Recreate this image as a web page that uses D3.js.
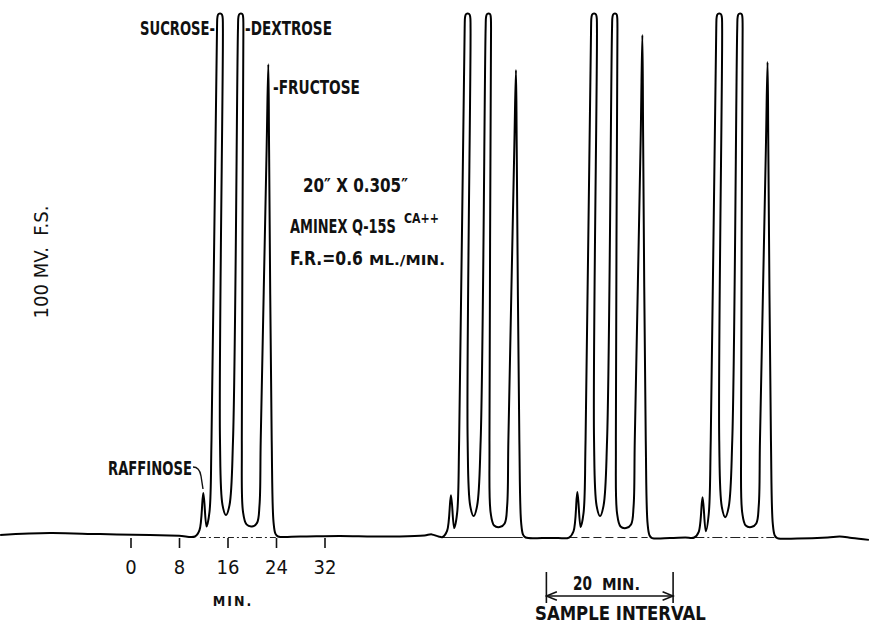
<!DOCTYPE html>
<html>
<head>
<meta charset="utf-8">
<script src="https://d3js.org/d3.v7.min.js"></script>
<style>
  body { margin: 0; background: #fff; }
  text { font-family: "DejaVu Sans Condensed", "DejaVu Sans", sans-serif; fill: #111; font-weight: bold; }
</style>
</head>
<body>
<div id="chart"></div>
<script>
const width = 870,
      height = 625;

// recorder trace: position along the time axis (min) and signal (mV).
// sucrose and dextrose run off the 100 mV scale, so the pen flattens at 100.
// the pen swings on an arc, so tall peaks lean to the right.
const leadMin = [-21.5, -13.3, -5.0, 3.2, 8.0];
const leadMV  = [0.4, 0.75, 0.55, 0.4, 0.25];

const run1Min = [10.64, 11.38, 12.01, 12.54, 13.03, 13.36, 14.27, 14.35, 14.52, 15.01, 15.18, 15.24, 14.76, 15.18, 15.75, 16.33, 16.91, 17.73, 17.81, 17.98, 18.44, 18.57, 18.62, 18.36, 18.56, 19.13, 20.04, 20.87, 21.28, 21.48, 22.45, 22.73, 22.86, 23.29, 23.59, 23.92, 24.33];
const run1MV  = [0.1, 1.3, 8.4, 2.0, 4.8, 18.5, 97.3, 99.5, 100, 100, 99.5, 97.3, 18.5, 6.1, 4.2, 6.1, 18.5, 97.3, 99.5, 100, 100, 99.5, 97.3, 18.5, 4.8, 2.4, 2.0, 2.7, 6.1, 18.5, 74.0, 90.4, 74.0, 18.5, 2.9, 0.6, 0.1];

const gap12Min = [28.0, 34.5, 40.0, 44.4, 48.5, 49.7, 50.8];
const gap12MV  = [0.1, 0.2, 0.1, 0.1, 0.3, 0.5, 0.1];

const run2Min = [51.49, 52.23, 52.86, 53.39, 53.88, 54.21, 55.12, 55.20, 55.37, 55.86, 56.03, 56.09, 55.61, 56.03, 56.60, 57.18, 57.76, 58.58, 58.66, 58.83, 59.29, 59.42, 59.47, 59.21, 59.41, 59.98, 60.89, 61.72, 62.13, 62.33, 63.30, 63.58, 63.71, 64.14, 64.44, 64.77, 65.18];
const run2MV  = [0.0, 1.2, 8.0, 1.7, 4.6, 18.5, 97.3, 99.5, 100, 100, 99.5, 97.3, 18.5, 6.0, 4.0, 6.0, 18.5, 97.3, 99.5, 100, 100, 99.5, 97.3, 18.5, 4.6, 2.2, 1.9, 2.6, 6.0, 18.5, 74.0, 89.3, 74.0, 18.5, 2.7, 0.4, -0.1];

const gap23Min = [68.0, 70.5];
const gap23MV  = [-0.2, -0.2];

const run3Min = [72.34, 73.08, 73.71, 74.24, 74.73, 75.06, 75.97, 76.05, 76.22, 76.71, 76.88, 76.94, 76.46, 76.88, 77.45, 78.03, 78.61, 79.43, 79.51, 79.68, 80.14, 80.27, 80.32, 80.06, 80.26, 80.83, 81.74, 82.57, 82.98, 83.18, 84.15, 84.43, 84.56, 84.99, 85.29, 85.62, 86.03];
const run3MV  = [-0.1, 1.1, 8.6, 1.9, 4.6, 18.5, 97.3, 99.5, 100, 100, 99.5, 97.3, 18.5, 6.0, 4.0, 6.0, 18.5, 97.3, 99.5, 100, 100, 99.5, 97.3, 18.5, 4.5, 2.0, 1.7, 2.4, 5.8, 18.5, 76.0, 96.0, 76.0, 18.5, 2.6, 0.3, -0.2];

const gap34Min = [89.0, 91.5];
const gap34MV  = [-0.2, -0.1];

const run4Min = [92.99, 93.73, 94.36, 94.89, 95.38, 95.71, 96.62, 96.70, 96.87, 97.36, 97.53, 97.59, 97.11, 97.53, 98.10, 98.68, 99.26, 100.08, 100.16, 100.33, 100.79, 100.92, 100.97, 100.71, 100.91, 101.48, 102.39, 103.22, 103.63, 103.83, 104.80, 105.08, 105.21, 105.64, 105.94, 106.27, 106.68];
const run4MV  = [-0.1, 1.0, 7.6, 1.1, 4.4, 18.5, 97.3, 99.5, 100, 100, 99.5, 97.3, 18.5, 5.8, 3.8, 5.8, 18.5, 97.3, 99.5, 100, 100, 99.5, 97.3, 18.5, 4.6, 2.2, 1.9, 2.6, 6.0, 18.5, 74.0, 90.8, 74.0, 18.5, 2.6, 0.3, -0.2];

const tailMin = [110.0, 115.0, 117.0, 119.0, 121.8];
const tailMV  = [-0.3, -0.1, 0.1, -0.2, -0.55];

// thin zero lines under each run (min)
const zeroFrom = [11.45, 51.5, 72.4, 93.0];
const zeroTo   = [23.97, 64.7, 85.3, 106.2];
const zeroDash = ["6,3,2,3", null, "8,4", "10,3,2,3"];

const tickMin = [0, 8, 16, 24, 32];
const interval = [68.6, 89.5];

const svg = d3.select("#chart").append("svg")
    .attr("width", width)
    .attr("height", height);

const x = d3.scaleLinear().domain([0, 32]).range([130.5, 324.5]);
const y = d3.scaleLinear().domain([0, 100]).range([537, 14]);

const trace = [].concat(
  d3.zip(leadMin, leadMV),
  d3.zip(run1Min, run1MV),
  d3.zip(gap12Min, gap12MV),
  d3.zip(run2Min, run2MV),
  d3.zip(gap23Min, gap23MV),
  d3.zip(run3Min, run3MV),
  d3.zip(gap34Min, gap34MV),
  d3.zip(run4Min, run4MV),
  d3.zip(tailMin, tailMV)
);

// zero lines
svg.selectAll("line.zero").data(zeroFrom)
  .join("line").attr("class", "zero")
    .attr("x1", d => x(d))
    .attr("x2", (d, i) => x(zeroTo[i]))
    .attr("y1", y(0) + 0.5).attr("y2", y(0) + 0.5)
    .attr("stroke", "#222")
    .attr("stroke-width", 1.2)
    .attr("stroke-dasharray", (d, i) => zeroDash[i]);

svg.append("path")
    .datum(trace)
    .attr("fill", "none")
    .attr("stroke", "#000")
    .attr("stroke-width", 2)
    .attr("stroke-linejoin", "round")
    .attr("d", d3.line()
        .x(d => x(d[0]))
        .y(d => y(d[1]))
        .curve(d3.curveCatmullRom.alpha(0.5)));

// time axis
const axis = svg.append("g")
    .attr("transform", `translate(0,${y(0) + 1})`)
    .call(d3.axisBottom(x).tickValues(tickMin).tickSize(10).tickPadding(12).tickFormat(d3.format("d")));
axis.select(".domain").remove();
axis.selectAll(".tick line").attr("stroke", "#111").attr("stroke-width", 1.6);
axis.selectAll(".tick text")
    .style("font-family", "'DejaVu Sans Condensed', sans-serif")
    .style("font-size", "20px")
    .style("font-weight", "normal")
    .attr("fill", "#111");

svg.append("text")
    .attr("x", 233).attr("y", 606)
    .attr("text-anchor", "middle")
    .style("font-size", "14px")
    .style("letter-spacing", "2px")
    .text("MIN.");

// squeeze a label to the width it has on the chart
function label(txt, px, py, size, len, anchor) {
  const t = svg.append("text")
      .attr("text-anchor", anchor || "start")
      .style("font-size", size + "px")
      .text(txt);
  const w = t.node().getComputedTextLength();
  t.attr("transform", `translate(${px},${py}) scale(${len / w},1)`);
  return t;
}

// peak labels
label("SUCROSE-", 215, 35, 19, 75, "end");
label("-DEXTROSE", 245, 35, 19, 87);
label("-FRUCTOSE", 273, 94, 19, 87);
label("RAFFINOSE", 108, 475, 19, 84);

svg.append("path")
    .attr("d", "M193,467 C198,467 200,470 201,476 L203,489")
    .attr("fill", "none").attr("stroke", "#111").attr("stroke-width", 1.4);

// column notes
label("20\u2033 X 0.305\u2033", 303, 192, 20, 105);
label("AMINEX Q-15S", 290, 233, 20, 106);
label("CA++", 404, 223, 14, 35);
label("F.R.=0.6", 290, 265, 20, 73);
label("ML./MIN.", 369, 265, 14, 76);

svg.append("text")
    .attr("transform", "translate(48,262) rotate(-90)")
    .attr("text-anchor", "middle")
    .attr("textLength", 113)
    .attr("lengthAdjust", "spacingAndGlyphs")
    .style("font-size", "20px")
    .style("font-weight", "normal")
    .style("white-space", "pre")
    .text("100 MV.  F.S.");

// sample interval bracket
const defs = svg.append("defs");
defs.append("marker")
    .attr("id", "arr").attr("viewBox", "0 0 10 10")
    .attr("refX", 10).attr("refY", 5)
    .attr("markerWidth", 9).attr("markerHeight", 7)
    .attr("orient", "auto-start-reverse")
    .append("path").attr("d", "M0,1 L10,5 L0,9").attr("fill", "none").attr("stroke", "#111").attr("stroke-width", 1.5);

svg.selectAll("line.bracket").data(interval)
  .join("line").attr("class", "bracket")
    .attr("x1", d => x(d)).attr("x2", d => x(d))
    .attr("y1", 572).attr("y2", 603)
    .attr("stroke", "#111").attr("stroke-width", 1.6);
svg.append("line")
    .attr("x1", x(interval[0])).attr("x2", x(interval[1]))
    .attr("y1", 596).attr("y2", 596)
    .attr("stroke", "#111").attr("stroke-width", 1.5)
    .attr("marker-start", "url(#arr)")
    .attr("marker-end", "url(#arr)");

label("20", 573, 590, 20, 19);
label("MIN.", 602, 590, 15, 38);
label("SAMPLE INTERVAL", 535, 620, 19, 171);
</script>
</body>
</html>
